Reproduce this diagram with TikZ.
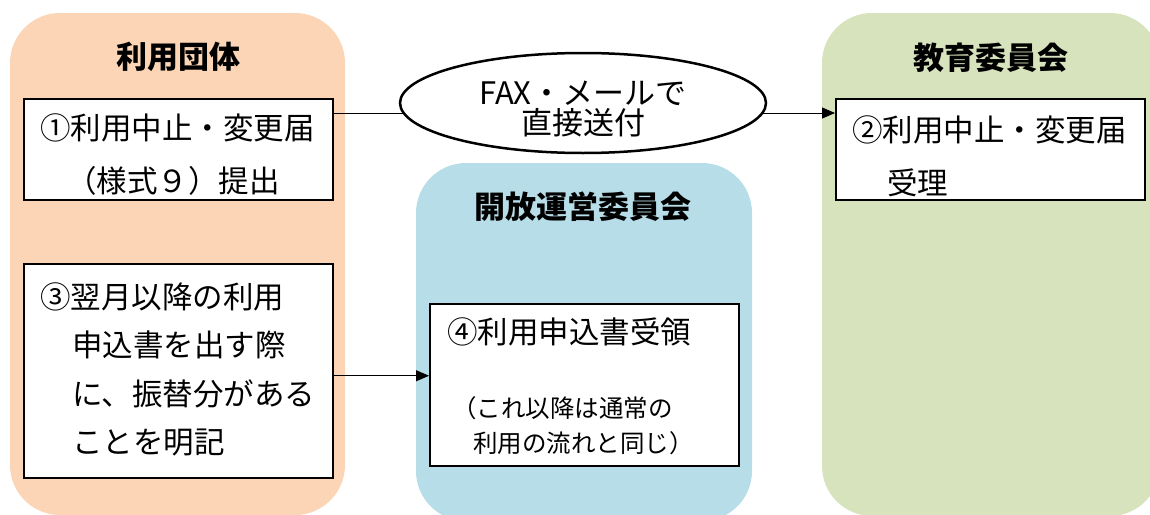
\documentclass[tikz,border=0pt]{standalone}
\usepackage{fontspec}
\newfontfamily\jp{Noto Sans CJK JP}
\usetikzlibrary{shapes.geometric,arrows.meta}
\definecolor{panelorange}{HTML}{FBD5B5}
\definecolor{panelblue}{HTML}{B7DDE8}
\definecolor{panelgreen}{HTML}{D7E3BC}
\tikzset{
  panel/.style={rounded corners=50pt},
  stepbox/.style={draw, line width=1.5pt, fill=white, rectangle, inner sep=0pt, anchor=north west},
  title/.style={font=\jp\bfseries\fontsize{31}{31}\selectfont, inner sep=0pt},
  body/.style={font=\jp\fontsize{30.5}{30.5}\selectfont, inner sep=0pt, anchor=west},
  small/.style={font=\jp\fontsize{24.5}{24.5}\selectfont, inner sep=0pt, anchor=west},
  conn/.style={line width=1pt, -{Triangle[length=13pt,width=11pt]}},
  plain/.style={line width=1pt}
}
\begin{document}
\begin{tikzpicture}[x=1pt,y=-1pt]
\useasboundingbox (0,0) rectangle (1150,514);
\begin{scope}
\clip (0,0) rectangle (1150,514);
\fill[panelorange, panel] (10,13) rectangle (345,515);
\fill[panelblue, panel] (416,163) rectangle (752,521);
\fill[panelgreen, panel] (822,13) rectangle (1160,516);
\end{scope}

\node[title] (t1) at (178,57) {利用団体};
\node[title] (t2) at (583,207) {開放運営委員会};
\node[title] (t3) at (991,58) {教育委員会};

\node[stepbox, minimum width=309pt, minimum height=101pt] (box1) at (23,98) {};
\node[stepbox, minimum width=309pt, minimum height=101pt] (box2) at (835,98) {};
\node[stepbox, minimum width=309pt, minimum height=214pt] (box3) at (23,263) {};
\node[stepbox, minimum width=309pt, minimum height=162pt] (box4) at (429,303) {};

\node[body] (b1a) at (40,128) {①利用中止・変更届};
\node[body] (b1b) at (66,181) {（様式９）提出};

\node[body] (b2a) at (852,130) {②利用中止・変更届};
\node[body] (b2b) at (887,183) {受理};

\node[body] (b3a) at (40,297) {③翌月以降の利用};
\node[body] (b3b) at (72,345) {申込書を出す際};
\node[body] (b3c) at (72,394) {に、振替分がある};
\node[body] (b3d) at (72,443) {ことを明記};

\node[body] (b4a) at (447,332) {④利用申込書受領};
\node[small] (b4b) at (452,408) {（これ以降は通常の};
\node[small] (b4c) at (473,443) {利用の流れと同じ）};

\draw[conn] ([yshift=-15pt]box1.north east) -- ([yshift=-15pt]box2.north west);
\draw[conn] ([yshift=-5pt]box3.east) -- ([yshift=-5pt]box3.east -| box4.west);

\node[ellipse, draw, line width=2.5pt, fill=white, minimum width=366pt, minimum height=100pt, inner sep=0pt,
      align=center, font=\jp\fontsize{31}{30}\selectfont] (ell) at (583,103) {\rule{0pt}{35pt}FAX・メールで\\直接送付};
\end{tikzpicture}
\end{document}
